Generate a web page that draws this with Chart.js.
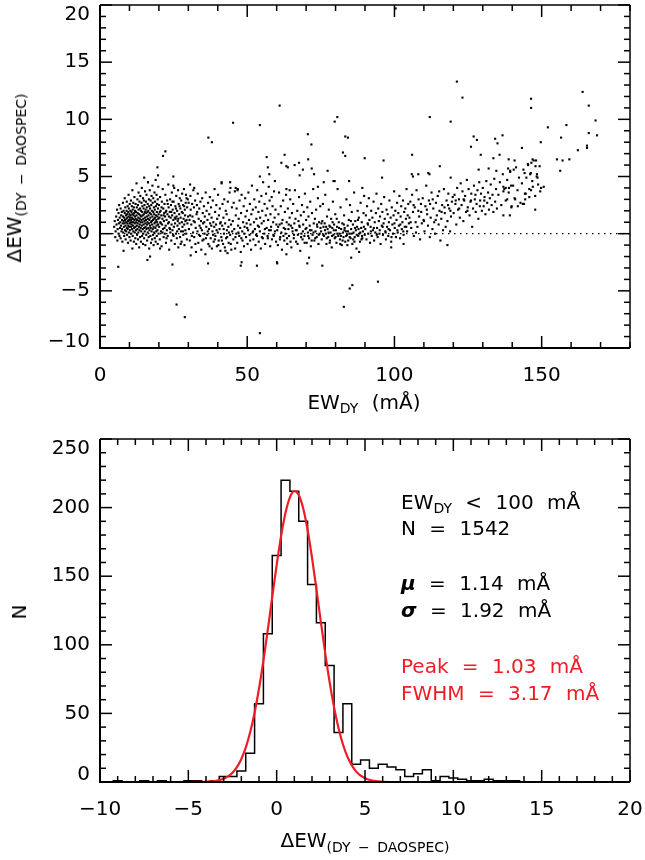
<!DOCTYPE html>
<html><head><meta charset="utf-8">
<script src="https://cdn.jsdelivr.net/npm/chart.js@4.4.1/dist/chart.umd.min.js"></script>
<style>
html,body{margin:0;padding:0;background:#fff;}
body{width:645px;height:860px;position:relative;overflow:hidden;font-family:"DejaVu Sans",sans-serif;color:#000;}
canvas{position:absolute;left:0;}
#c1{top:0;} #c2{top:420px;}
.t{position:absolute;font-size:20px;line-height:24px;white-space:nowrap;word-spacing:7px;}
.sub{font-size:14px;position:relative;top:4px;word-spacing:3px;}
.asub{font-size:14px;position:relative;top:5px;word-spacing:3px;}
.hc{transform:translate(-50%,0);}
.rot{transform:translate(-50%,-50%) rotate(-90deg);}
.red{color:#ee1c25;}
</style></head><body>
<canvas id="c1" width="645" height="420"></canvas>
<canvas id="c2" width="645" height="440"></canvas>

<div class="t rot" style="left:15px;top:178px">ΔEW<span class="asub">(DY − DAOSPEC)</span></div>
<div class="t hc" style="left:364px;top:390px">EW<span class="sub">DY</span> (mÅ)</div>

<div class="t rot" style="left:19px;top:612px">N</div>
<div class="t hc" style="left:365px;top:828px">ΔEW<span class="asub">(DY − DAOSPEC)</span></div>

<div class="t" style="left:401px;top:490px">EW<span class="sub">DY</span> &lt; 100 mÅ</div>
<div class="t" style="left:401px;top:516px">N = 1542</div>
<div class="t" style="left:401px;top:571px"><b><i>μ</i></b> = 1.14 mÅ</div>
<div class="t" style="left:401px;top:598px"><b><i>σ</i></b> = 1.92 mÅ</div>
<div class="t red" style="left:401px;top:654px">Peak = 1.03 mÅ</div>
<div class="t red" style="left:401px;top:681px">FWHM = 3.17 mÅ</div>

<script>
// ---------- top panel: scatter data [EW_DY (mÅ), ΔEW (mÅ)] ----------
const scatterEW5to12 = [[4.8,0.6],[5.0,1.1],[5.2,-0.3],[5.3,0.2],[5.5,1.5],[5.6,0.8],[5.8,2.1],[5.9,-0.6],[6.0,0.4],[6.1,1.2],[6.3,1.8],[6.3,0.0],[6.4,0.9],[6.5,2.5],[6.6,-0.2],[6.7,1.4],[6.8,0.5],[6.9,1.0],[7.0,2.2],[7.0,-0.4],[7.1,0.7],[7.2,1.6],[7.3,0.2],[7.4,1.9],[7.5,1.2],[7.5,0.4],[7.6,-0.7],[7.7,0.9],[7.8,2.7],[7.8,1.5],[7.9,0.1],[8.0,1.1],[8.0,2.0],[8.1,0.6],[8.2,-0.2],[8.2,1.4],[8.3,0.9],[8.4,1.8],[8.4,3.1],[8.5,0.3],[8.5,1.2],[8.6,2.3],[8.7,0.7],[8.7,-0.5],[8.8,1.6],[8.8,1.0],[8.9,0.2],[9.0,2.0],[9.0,1.3],[9.1,0.5],[9.1,2.8],[9.2,1.7],[9.2,-0.1],[9.3,0.9],[9.3,1.4],[9.4,2.4],[9.4,0.4],[9.5,1.1],[9.5,-0.8],[9.6,1.9],[9.6,0.7],[9.7,1.5],[9.7,3.4],[9.8,0.1],[9.8,2.2],[9.9,1.2],[9.9,0.6],[10.0,1.7],[10.0,-0.3],[10.1,0.9],[10.1,2.6],[10.2,1.4],[10.2,0.3],[10.3,2.0],[10.3,1.0],[10.4,-0.6],[10.4,1.6],[10.5,0.6],[10.5,2.9],[10.6,1.2],[10.6,0.0],[10.7,1.9],[10.7,0.8],[10.8,2.4],[10.8,1.4],[10.9,0.4],[10.9,1.0],[11.0,3.8],[11.0,1.7],[11.1,-0.2],[11.1,2.1],[11.2,0.7],[11.2,1.3],[11.3,2.7],[11.3,0.2],[11.4,1.6],[11.4,1.0],[11.5,-0.7],[11.5,2.3],[11.6,0.5],[11.6,1.8],[11.7,1.2],[11.7,3.2],[11.8,0.1],[11.8,0.9],[11.9,2.0],[11.9,1.5],[12.0,0.6],[12.0,-0.4]];
const scatterEW12to20 = [[12.1,1.3],[12.1,2.6],[12.2,0.3],[12.2,1.9],[12.3,-0.9],[12.3,1.0],[12.4,4.4],[12.4,1.6],[12.5,0.7],[12.5,2.3],[12.6,-0.1],[12.6,1.2],[12.7,3.0],[12.7,0.4],[12.8,1.8],[12.8,0.9],[12.9,2.5],[12.9,-0.5],[13.0,1.4],[13.0,0.1],[13.1,2.1],[13.1,3.6],[13.2,0.6],[13.2,1.1],[13.3,-1.2],[13.3,1.7],[13.4,2.8],[13.4,0.3],[13.5,1.3],[13.5,0.8],[13.6,2.2],[13.6,-0.3],[13.7,1.6],[13.7,3.3],[13.8,0.5],[13.8,1.0],[13.9,2.0],[13.9,-0.7],[14.0,1.5],[14.0,0.2],[14.1,2.7],[14.1,1.2],[14.2,4.0],[14.2,0.7],[14.3,1.9],[14.3,-0.2],[14.4,1.0],[14.4,2.4],[14.5,0.4],[14.5,1.6],[14.6,3.1],[14.6,-0.9],[14.7,1.3],[14.7,0.0],[14.8,2.2],[14.8,0.8],[14.9,1.7],[14.9,2.9],[15.0,0.5],[15.0,-0.4],[15.1,1.1],[15.1,2.5],[15.2,1.9],[15.2,0.2],[15.3,3.7],[15.3,1.4],[15.4,0.9],[15.4,-1.0],[15.5,2.1],[15.5,0.6],[15.6,1.2],[15.6,2.8],[15.7,-0.1],[15.7,1.8],[15.8,0.4],[15.8,3.4],[15.9,1.5],[15.9,2.3],[16.0,0.8],[16.0,-0.6],[16.1,1.9],[16.1,1.0],[16.2,2.6],[16.2,0.1],[16.3,4.5],[16.3,1.3],[16.4,0.5],[16.4,2.0],[16.5,-0.3],[16.5,1.6],[16.6,3.0],[16.6,0.9],[16.7,2.4],[16.7,-1.3],[16.8,1.2],[16.8,0.3],[16.9,1.8],[16.9,3.8],[17.0,0.7],[17.0,2.2],[17.1,-0.2],[17.1,1.4],[17.2,2.9],[17.2,0.5],[17.3,1.0],[17.3,-0.8],[17.4,2.5],[17.4,1.7],[17.5,0.2],[17.5,3.3],[17.6,1.1],[17.6,2.0],[17.7,-0.5],[17.7,0.8],[17.8,1.5],[17.8,4.2],[17.9,2.7],[17.9,0.4],[18.0,1.2],[18.0,-0.1],[18.1,1.9],[18.1,3.1],[18.2,0.6],[18.2,-1.0],[18.3,2.3],[18.3,1.3],[18.4,0.1],[18.4,1.7],[18.5,3.6],[18.5,0.9],[18.6,2.1],[18.6,-0.4],[18.7,1.4],[18.7,2.8],[18.8,0.5],[18.8,1.0],[18.9,4.7],[18.9,-0.7],[19.0,1.6],[19.0,2.4],[19.1,0.2],[19.1,1.2],[19.2,3.4],[19.2,0.7],[19.3,-0.2],[19.3,1.9],[19.4,2.6],[19.4,1.0],[19.5,0.3],[19.5,1.5],[19.6,3.0],[19.6,-0.9],[19.7,0.8],[19.7,2.2],[19.8,1.3],[19.8,4.1],[19.9,0.0],[19.9,1.7]];
const scatterEW20to30 = [[20.0,2.5],[20.1,0.6],[20.2,1.4],[20.3,-0.5],[20.4,3.2],[20.5,1.0],[20.6,2.0],[20.7,0.2],[20.8,1.6],[20.9,-1.1],[21.0,2.8],[21.1,0.8],[21.2,1.3],[21.3,3.9],[21.4,0.4],[21.5,2.2],[21.6,-0.3],[21.7,1.1],[21.8,1.8],[21.9,2.6],[22.0,0.0],[22.1,1.5],[22.2,3.4],[22.3,0.7],[22.4,-0.8],[22.5,2.0],[22.6,1.2],[22.7,0.3],[22.8,2.9],[22.9,1.7],[23.0,-0.2],[23.1,0.9],[23.2,4.3],[23.3,2.3],[23.4,1.0],[23.5,-1.4],[23.6,0.5],[23.7,1.9],[23.8,3.0],[23.9,0.1],[24.0,1.4],[24.1,2.5],[24.2,-0.6],[24.3,0.8],[24.4,3.6],[24.5,1.6],[24.6,0.3],[24.7,2.1],[24.8,-0.1],[24.9,1.2],[25.0,2.8],[25.1,0.6],[25.2,4.0],[25.3,1.8],[25.4,-0.9],[25.5,0.9],[25.6,2.4],[25.7,1.3],[25.8,0.0],[25.9,3.3],[26.0,1.5],[26.1,-0.4],[26.2,2.0],[26.3,0.7],[26.4,1.1],[26.5,3.8],[26.6,-1.2],[26.7,2.6],[26.8,0.4],[26.9,1.7],[27.0,0.9],[27.1,3.1],[27.2,-0.3],[27.3,2.2],[27.4,1.4],[27.5,0.2],[27.6,2.9],[27.7,-0.7],[27.8,1.0],[27.9,3.5],[28.0,0.6],[28.1,1.8],[28.2,2.5],[28.3,-0.1],[28.4,1.3],[28.5,3.9],[28.6,0.8],[28.7,-1.0],[28.8,2.1],[28.9,1.6],[29.0,0.3],[29.1,2.7],[29.2,3.4],[29.3,0.0],[29.4,1.2],[29.5,-0.5],[29.6,2.3],[29.7,0.9],[29.8,3.0],[29.9,1.5],[20.3,1.9],[20.6,0.9],[20.9,2.3],[21.2,0.1],[21.6,1.6],[21.9,0.5],[22.3,1.9],[22.6,-0.4],[23.0,2.6],[23.4,1.5],[23.8,0.4],[24.2,1.9],[24.6,2.8],[25.0,-0.2],[25.4,1.4],[25.8,2.2],[26.2,0.2],[26.6,1.3],[27.0,2.4],[27.4,-0.9],[27.8,1.9],[28.2,0.2],[28.6,2.4],[29.0,1.1],[29.4,3.1]];
const scatterEW30to45 = [[30.1,2.7],[30.2,0.4],[30.4,1.2],[30.5,-0.6],[30.7,3.3],[30.8,2.1],[31.0,0.8],[31.1,-1.2],[31.3,2.6],[31.4,1.5],[31.6,0.1],[31.7,3.8],[31.9,2.3],[32.0,-0.3],[32.2,1.0],[32.3,2.9],[32.5,0.5],[32.6,-1.6],[32.8,1.7],[32.9,2.5],[33.1,0.2],[33.2,3.5],[33.4,-0.8],[33.5,1.3],[33.7,2.2],[33.8,0.7],[34.0,-0.2],[34.1,2.8],[34.3,1.1],[34.4,-1.4],[34.6,0.3],[34.7,3.1],[34.9,1.8],[35.0,0.9],[35.2,-0.5],[35.3,2.4],[35.5,0.0],[35.6,1.5],[35.8,-1.8],[35.9,3.6],[36.1,0.6],[36.2,2.0],[36.4,-0.1],[36.5,1.2],[36.7,2.7],[36.8,-0.9],[37.0,0.4],[37.1,1.7],[37.3,3.2],[37.4,0.9],[37.6,-0.4],[37.7,2.3],[37.9,1.4],[38.0,-1.3],[38.2,0.2],[38.3,2.9],[38.5,1.0],[38.6,-0.7],[38.8,0.6],[38.9,3.9],[39.1,1.9],[39.2,-0.2],[39.4,0.8],[39.5,2.5],[39.7,-1.1],[39.8,1.3],[40.0,0.1],[40.1,3.4],[40.3,-0.6],[40.4,1.6],[40.6,0.4],[40.7,2.2],[40.9,-1.5],[41.0,1.0],[41.2,-0.3],[41.3,4.4],[41.5,0.7],[41.6,2.6],[41.8,-0.9],[41.9,1.4],[42.1,0.0],[42.2,3.0],[42.4,-1.2],[42.5,0.9],[42.7,2.0],[42.8,-0.4],[43.0,1.7],[43.1,0.3],[43.3,-1.7],[43.4,2.8],[43.6,0.6],[43.7,-0.8],[43.9,1.2],[44.0,3.6],[44.2,-0.1],[44.3,4.0],[44.5,0.8],[44.6,-1.4],[44.8,2.3],[44.9,0.2],[30.6,1.6],[31.2,-0.2],[31.8,1.1],[32.4,-0.9],[33.0,1.9],[33.6,-0.1],[34.2,0.5],[34.8,-0.6],[35.4,1.0],[36.0,-0.4],[36.6,0.2],[37.2,-1.1],[37.8,0.7],[38.4,-0.1],[39.0,-0.5],[39.6,0.3],[40.2,-1.0],[40.8,0.9],[41.4,-0.6],[42.0,0.4],[42.6,-1.5],[43.2,-0.3],[43.8,0.1],[44.4,-0.9]];
const scatterEW45to60 = [[45.1,1.1],[45.3,-0.5],[45.4,2.7],[45.6,0.4],[45.8,3.7],[45.9,-1.3],[46.1,1.6],[46.3,0.0],[46.4,2.2],[46.6,-0.8],[46.8,3.9],[46.9,0.7],[47.1,1.3],[47.3,-0.2],[47.4,2.9],[47.6,0.5],[47.8,-1.6],[47.9,1.8],[48.1,3.4],[48.3,0.2],[48.4,-0.6],[48.6,1.0],[48.8,2.4],[48.9,-1.1],[49.1,0.6],[49.3,3.1],[49.4,1.5],[49.6,-0.3],[49.8,0.9],[49.9,2.0],[50.1,-0.9],[50.3,0.3],[50.4,3.6],[50.6,1.2],[50.8,-0.1],[50.9,2.6],[51.1,0.8],[51.3,-1.4],[51.4,1.7],[51.6,4.2],[51.8,0.1],[51.9,2.1],[52.1,-0.5],[52.3,1.0],[52.4,3.0],[52.6,0.4],[52.8,-1.0],[52.9,2.3],[53.1,1.3],[53.3,-0.2],[53.4,3.8],[53.6,0.7],[53.8,1.9],[53.9,-0.7],[54.1,2.8],[54.3,0.2],[54.4,1.4],[54.6,-1.3],[54.8,3.3],[54.9,0.9],[55.1,2.0],[55.3,-0.4],[55.4,4.5],[55.6,1.1],[55.8,0.0],[55.9,2.6],[56.1,-0.9],[56.3,1.6],[56.4,3.5],[56.6,0.5],[56.8,2.2],[56.9,-0.2],[57.1,1.2],[57.3,4.1],[57.4,0.3],[57.6,2.9],[57.8,-1.1],[57.9,1.7],[58.1,0.6],[58.3,3.2],[58.4,-0.5],[58.6,2.4],[58.8,1.0],[58.9,-0.1],[59.1,3.7],[59.3,1.4],[59.4,0.2],[59.6,2.1],[59.8,-0.7],[59.9,0.8],[46.0,-0.3],[47.0,0.1],[48.0,-0.4],[49.0,0.0],[50.0,0.5],[51.0,-0.6],[52.0,0.2],[53.0,-0.1],[54.0,0.6],[55.0,-0.3],[56.0,0.4],[57.0,-0.4],[58.0,0.3],[59.0,-0.2]];
const scatterEW60to75 = [[60.2,0.3],[60.4,-1.0],[60.6,1.7],[60.8,3.6],[61.0,0.8],[61.2,-0.3],[61.4,2.4],[61.6,0.1],[61.8,-1.4],[62.0,1.2],[62.2,2.9],[62.4,0.5],[62.6,-0.6],[62.8,1.9],[63.0,0.0],[63.2,3.4],[63.4,1.0],[63.6,-0.9],[63.8,2.2],[64.0,0.4],[64.2,-0.2],[64.4,1.4],[64.6,3.0],[64.8,0.7],[65.0,-1.2],[65.2,1.8],[65.4,0.2],[65.6,2.6],[65.8,-0.4],[66.0,0.9],[66.2,3.8],[66.4,1.3],[66.6,-0.7],[66.8,0.3],[67.0,2.0],[67.2,-0.1],[67.4,1.1],[67.6,3.2],[67.8,0.6],[68.0,-1.5],[68.2,1.6],[68.4,0.0],[68.6,2.5],[68.8,-0.5],[69.0,0.8],[69.2,1.9],[69.4,-0.2],[69.6,3.5],[69.8,0.4],[70.0,1.2],[70.2,-0.8],[70.4,2.3],[70.6,0.1],[70.8,1.5],[71.0,-0.4],[71.2,0.7],[71.4,2.8],[71.6,-1.1],[71.8,0.3],[72.0,1.8],[72.2,-0.1],[72.4,3.9],[72.6,0.9],[72.8,-0.6],[73.0,1.3],[73.2,0.2],[73.4,2.1],[73.6,-0.3],[73.8,0.6],[74.0,3.1],[74.2,-0.9],[74.4,1.0],[74.6,0.0],[74.8,2.4],[60.5,0.6],[61.1,-0.5],[61.7,0.9],[62.3,-0.2],[62.9,0.4],[63.5,-0.4],[64.1,0.8],[64.7,-0.7],[65.3,0.5],[65.9,-0.1],[66.5,0.3],[67.1,-0.9],[67.7,0.7],[68.3,-0.3],[68.9,0.2],[69.5,-0.8],[70.1,0.5],[70.7,-0.2],[71.3,0.3],[71.9,-0.6],[72.5,0.1],[73.1,-0.4],[73.7,0.8],[74.3,-0.1],[74.9,0.5]];
const scatterEW75to90 = [[75.1,0.2],[75.3,-0.5],[75.5,1.1],[75.7,2.6],[75.9,0.6],[76.1,-0.2],[76.3,0.9],[76.5,3.4],[76.7,0.0],[76.9,-0.9],[77.1,1.5],[77.3,0.4],[77.5,-0.3],[77.7,2.1],[77.9,0.7],[78.1,-0.6],[78.3,0.1],[78.5,1.3],[78.7,-1.2],[78.9,0.5],[79.1,2.8],[79.3,-0.1],[79.5,0.8],[79.7,-0.4],[79.9,1.7],[80.1,0.3],[80.3,-0.8],[80.5,0.6],[80.7,3.9],[80.9,-0.2],[81.1,1.0],[81.3,0.0],[81.5,-0.5],[81.7,2.3],[81.9,0.4],[82.1,-1.0],[82.3,0.9],[82.5,0.1],[82.7,-0.3],[82.9,1.6],[83.1,0.5],[83.3,-0.7],[83.5,0.2],[83.7,3.0],[83.9,-0.1],[84.1,0.7],[84.3,-0.6],[84.5,1.2],[84.7,0.0],[84.9,2.5],[85.1,-0.4],[85.3,0.4],[85.5,1.9],[85.7,-0.9],[85.9,0.8],[86.1,0.1],[86.3,3.6],[86.5,-0.3],[86.7,1.1],[86.9,0.3],[87.1,-1.3],[87.3,0.6],[87.5,2.0],[87.7,-0.2],[87.9,1.4],[88.1,0.0],[88.3,-0.7],[88.5,2.7],[88.7,0.5],[88.9,1.0],[89.1,-0.4],[89.3,0.2],[89.5,1.8],[89.7,3.3],[89.9,-0.1],[75.2,0.9],[75.8,-0.1],[76.4,0.3],[77.0,-0.4],[77.6,0.1],[78.2,0.6],[78.8,-0.2],[79.4,0.3],[80.0,-0.3],[80.6,0.0],[81.2,0.5],[81.8,-0.2],[82.4,-0.6],[83.0,0.3],[83.6,-0.2],[84.2,0.2],[84.8,-0.3],[85.4,0.0],[86.0,-0.5],[86.6,0.5],[87.2,-0.1],[87.8,0.4],[88.4,0.1],[89.0,-0.2],[89.6,0.6],[76.8,0.6],[78.0,-0.8],[79.0,1.0],[80.4,1.3],[81.6,-0.9],[82.8,0.8],[84.0,-1.0],[85.2,1.1],[86.4,-0.7],[87.6,1.2],[88.8,-0.5]];
const scatterEW90to105 = [[90.1,0.4],[90.3,1.6],[90.5,-0.5],[90.7,2.4],[90.9,0.9],[91.1,0.0],[91.3,3.1],[91.5,1.2],[91.7,-0.8],[91.9,0.6],[92.1,2.0],[92.3,-0.2],[92.5,1.4],[92.7,0.3],[92.9,2.8],[93.1,-0.6],[93.3,1.0],[93.5,0.1],[93.7,1.8],[93.9,3.5],[94.1,0.5],[94.3,-0.3],[94.5,2.2],[94.7,1.1],[94.9,0.0],[95.1,1.5],[95.3,-0.9],[95.5,2.6],[95.7,0.7],[95.9,1.9],[96.1,-0.1],[96.3,0.9],[96.5,3.2],[96.7,1.3],[96.9,0.2],[97.1,-0.5],[97.3,2.1],[97.5,0.6],[97.7,1.7],[97.9,-0.2],[98.1,1.0],[98.3,2.9],[98.5,0.3],[98.7,1.4],[98.9,-0.7],[99.1,2.3],[99.3,0.8],[99.5,0.0],[99.7,1.6],[99.9,3.7],[100.1,0.5],[100.3,2.0],[100.5,-0.3],[100.7,1.2],[100.9,2.7],[101.1,0.1],[101.3,1.8],[101.5,0.7],[101.7,3.3],[101.9,-0.4],[102.1,1.5],[102.3,2.4],[102.5,0.4],[102.7,1.0],[102.9,2.9],[103.1,-0.1],[103.3,1.9],[103.5,0.6],[103.7,2.2],[103.9,1.3],[104.1,3.9],[104.3,0.2],[104.5,1.6],[104.7,2.6],[104.9,0.9],[91.0,0.8],[92.0,0.2],[93.0,0.5],[94.0,-0.1],[95.0,0.3],[96.0,0.6],[97.0,0.1],[98.0,0.4],[99.0,-0.3],[100.0,0.9],[101.0,0.3],[102.0,0.8],[103.0,0.2],[104.0,0.6]];
const scatterEW105to120 = [[105.1,1.4],[105.4,2.8],[105.7,0.5],[106.0,3.4],[106.3,1.9],[106.6,-0.2],[106.9,2.3],[107.2,1.0],[107.5,3.8],[107.8,0.6],[108.1,2.0],[108.4,1.5],[108.7,-0.5],[109.0,2.6],[109.3,0.9],[109.6,3.1],[109.9,1.2],[110.2,0.2],[110.5,2.4],[110.8,4.2],[111.1,1.7],[111.4,0.7],[111.7,2.9],[112.0,-0.3],[112.3,1.4],[112.6,3.6],[112.9,0.4],[113.2,2.2],[113.5,1.0],[113.8,0.0],[114.1,2.7],[114.4,1.6],[114.7,3.3],[115.0,0.8],[115.3,2.0],[115.6,-0.6],[115.9,1.3],[116.2,2.5],[116.5,0.3],[116.8,3.9],[117.1,1.8],[117.4,0.6],[117.7,2.9],[118.0,1.1],[118.3,3.5],[118.6,2.2],[118.9,0.2],[119.2,1.5],[119.5,2.8],[119.8,3.2],[105.5,1.0],[106.5,2.5],[107.3,0.1],[108.2,3.0],[109.1,1.9],[110.0,1.1],[111.0,2.1],[112.1,2.6],[113.0,3.0],[114.0,1.2],[115.2,3.7],[116.0,1.9],[117.0,2.3],[118.2,2.5],[119.0,2.0]];
const scatterEW120to150 = [[120.1,1.8],[120.4,3.4],[120.7,2.6],[121.0,0.8],[121.3,4.0],[121.6,2.1],[121.9,3.0],[122.2,1.4],[122.5,4.4],[122.8,2.5],[123.1,3.7],[123.4,1.1],[123.7,2.9],[124.0,3.3],[124.3,1.9],[124.6,4.7],[124.9,2.3],[125.2,3.9],[125.5,1.6],[125.8,2.8],[126.1,3.5],[126.4,0.6],[126.7,2.2],[127.0,4.2],[127.3,3.0],[127.6,1.9],[127.9,2.6],[128.2,3.8],[128.5,1.3],[128.8,4.5],[129.1,2.9],[129.4,3.5],[129.7,2.0],[130.0,4.0],[130.3,2.4],[130.6,3.2],[130.9,1.7],[131.2,4.6],[131.5,2.7],[131.8,3.6],[132.1,2.1],[132.4,3.1],[132.7,4.3],[133.0,2.5],[133.3,3.4],[133.6,1.9],[133.9,4.8],[134.2,2.8],[134.5,3.9],[134.8,2.2],[120.8,2.9],[122.0,2.2],[123.5,3.0],[124.8,2.0],[126.0,2.9],[127.5,3.4],[129.0,2.4],[130.5,2.9],[135.3,3.4],[135.8,4.5],[136.3,2.5],[136.8,5.2],[137.3,3.9],[137.8,2.9],[138.3,4.7],[138.8,3.6],[139.3,5.5],[139.8,2.4],[140.3,4.2],[140.8,3.1],[141.3,5.8],[141.8,3.8],[142.3,4.9],[142.8,2.7],[143.3,4.4],[143.8,5.6],[144.3,3.5],[144.8,4.9],[145.3,6.1],[145.8,3.9],[146.3,5.3],[146.8,4.6],[147.3,6.4],[147.8,3.3],[148.3,5.0],[148.8,4.3],[149.3,5.9],[149.8,4.0],[137.0,1.6],[141.0,3.0],[144.0,2.6]];
const scatterIsolatedHigh = [[45.2,9.7],[54.3,9.5],[36.8,8.4],[38.0,8.0],[22.2,7.2],[21.4,6.8],[19.5,5.8],[19.7,5.1],[15.0,4.9],[16.3,4.5],[24.9,5.0],[24.9,4.2],[56.6,6.7],[57.0,5.8],[57.5,5.2],[54.3,5.0],[59.4,4.6],[41.3,4.5],[44.2,4.5],[30.6,4.3],[32.0,4.0],[46.1,4.0],[46.7,3.8],[61.0,11.2],[79.7,9.8],[80.6,10.2],[70.6,8.7],[83.3,8.5],[84.2,8.4],[112.0,10.2],[119.1,9.8],[71.8,7.8],[82.5,7.1],[83.3,6.8],[62.7,6.9],[61.6,6.2],[63.3,5.9],[63.8,5.8],[66.1,6.0],[67.6,6.2],[70.7,6.5],[68.9,5.6],[67.8,5.1],[71.9,5.7],[72.7,5.2],[77.3,5.5],[89.9,6.6],[96.3,6.4],[106.0,6.9],[115.4,5.9],[105.9,5.2],[106.3,5.0],[108.1,5.2],[111.5,5.3],[111.9,5.2],[119.1,4.9],[95.8,4.9],[84.6,4.6],[89.1,4.0],[79.3,4.6],[79.7,4.6],[76.0,4.5],[74.0,4.1],[63.3,3.9],[64.4,3.8],[100.4,19.7],[121.2,13.3],[123.1,11.9],[146.4,11.8],[146.4,11.0],[163.9,12.4],[166.0,11.2],[168.3,9.9],[168.8,8.6],[166.0,8.8],[165.4,7.7],[165.4,7.5],[158.4,9.5],[156.6,8.4],[162.3,7.3],[152.1,9.3],[149.7,8.0],[155.2,6.5],[157.1,6.4],[159.4,6.5],[156.3,5.5],[126.9,8.5],[128.0,8.2],[126.0,7.6],[134.2,8.3],[135.0,7.9],[136.7,8.6],[129.3,6.9],[143.3,7.5],[133.6,6.6],[135.7,6.9],[138.8,6.5],[140.8,6.4],[139.3,5.4],[146.9,6.5],[148.1,6.4],[146.5,6.2],[145.4,6.0],[147.9,5.9],[144.2,5.3],[146.1,5.2],[148.4,5.2],[148.6,4.9],[128.6,5.6],[132.0,5.7],[134.6,5.5],[140.5,5.6],[138.6,5.7],[149.5,3.7],[150.7,4.1],[147.0,4.1],[146.4,3.8],[144.6,3.5],[145.8,3.2],[144.4,3.0],[143.6,2.6],[141.9,2.4],[139.7,2.3],[147.8,2.1],[139.2,1.6],[138.3,3.0],[137.0,4.1],[137.8,4.0],[138.9,4.0],[139.6,4.2],[137.0,3.7]];
const scatterIsolatedLow = [[6.2,-2.9],[8.0,-1.5],[11.0,-1.3],[16.1,-2.3],[17.0,-2.0],[26.0,-6.2],[28.8,-7.3],[54.3,-8.7],[24.6,-2.7],[30.8,-1.9],[36.7,-2.6],[47.8,-2.8],[48.1,-2.5],[53.3,-2.8],[60.1,-2.5],[20.4,-1.3],[82.8,-6.4],[84.8,-4.8],[85.7,-4.5],[94.4,-4.2],[75.5,-2.8],[70.4,-2.6],[71.0,-2.1],[60.2,-2.6],[63.3,-1.8],[85.3,-2.1],[88.0,-1.6],[98.9,-1.2],[103.1,-0.9],[118.0,-1.0]];
const zeroLineX = [0, 180];
const zeroLineY = [0, 0];
const topXTicks = [0, 50, 100, 150];
const topYTicks = [-10, -5, 0, 5, 10, 15, 20];

// ---------- bottom panel: histogram of ΔEW (bin width 0.5 mÅ) ----------
const histBinCenters = [-10,-9.5,-9,-8.5,-8,-7.5,-7,-6.5,-6,-5.5,-5,-4.5,-4,-3.5,-3,-2.5,-2,-1.5,-1,-0.5,0,0.5,1,1.5,2,2.5,3,3.5,4,4.5,5,5.5,6,6.5,7,7.5,8,8.5,9,9.5,10,10.5,11,11.5,12,12.5,13,13.5,14];
const histCounts     = [0,0,1,0,0,1,0,1,0,0,1,1,0,1,4,4,8,21,57,108,165,220,212,190,144,116,85,36,57,13,16,10,13,11,9,4,6,9,1,4,3,2,1,1,2,1,1,1,0];
// Gaussian fit curve
const fitX = [-10,-8,-6,-5,-4.5,-4,-3.5,-3,-2.75,-2.5,-2.25,-2,-1.75,-1.5,-1.25,-1,-0.75,-0.5,-0.25,0,0.25,0.5,0.75,1,1.25,1.5,1.75,2,2.25,2.5,2.75,3,3.25,3.5,3.75,4,4.5,5,5.5,6,7,8,10,12,15];
const fitN = [0,0,0,0,0.1,0.2,0.7,2.4,4.1,6.8,10.9,16.8,25.1,36.2,50.5,68.0,88.4,111.1,134.9,158.2,179.2,196.2,207.5,212.0,209.2,199.5,183.7,163.5,140.6,116.7,93.7,72.6,54.4,39.4,27.5,18.6,7.6,2.7,0.9,0.2,0,0,0,0,0];
const botXTicks = [-10, -5, 0, 5, 10, 15, 20];
const botYTicks = [0, 50, 100, 150, 200, 250];

// ---------- helpers / plugins ----------
const FONT = {family: '"DejaVu Sans", sans-serif', size: 20};
const RED = '#ee1c25';
const fmt = v => String(v).replace('-', '\u2212');
const toXY = (xs, ys) => xs.map((v, i) => ({x: v, y: ys[i]}));
const pairs = arr => arr.map(p => ({x: p[0], y: p[1]}));

const edgeLabels = {
  id: 'edgeLabels',
  beforeDraw(chart, args, o) {
    const s = chart.scales.y;
    const items = s.getLabelItems ? s.getLabelItems() : [];
    items.forEach(it => {
      if (it._moved) return;
      const op = it.options || it;
      const t = op.translation;
      if (!t) return;
      if (Math.abs(t[1] - s.top) < 1) t[1] += o.top;
      else if (Math.abs(t[1] - s.bottom) < 1) t[1] -= o.bottom;
      it._moved = true;
    });
  }
};

const frameTicks = {
  id: 'frameTicks',
  afterDraw(chart, args, o) {
    const {ctx, chartArea: a, scales: {x, y}} = chart;
    ctx.save();
    ctx.strokeStyle = '#000';
    ctx.lineCap = 'butt';
    const seg = (x1, y1, x2, y2, w) => { ctx.lineWidth = w; ctx.beginPath(); ctx.moveTo(x1, y1); ctx.lineTo(x2, y2); ctx.stroke(); };
    const isMajor = (v, m) => Math.abs(v / m - Math.round(v / m)) < 1e-6;
    let n = Math.round((x.max - x.min) / o.xMinor);
    for (let i = 0; i <= n; i++) {
      const v = x.min + i * o.xMinor;
      const p = x.getPixelForValue(v);
      const L = isMajor(v, o.xMajor) ? 12 : 6;
      seg(p, a.bottom, p, a.bottom - L, 1.5);
      seg(p, a.top, p, a.top + L, 1.5);
    }
    n = Math.round((y.max - y.min) / o.yMinor);
    for (let i = 0; i <= n; i++) {
      const v = y.min + i * o.yMinor;
      const p = y.getPixelForValue(v);
      const L = isMajor(v, o.yMajor) ? 12 : 6;
      seg(a.left, p, a.left + L, p, 1.5);
      seg(a.right, p, a.right - L, p, 1.5);
    }
    seg(a.left, a.top, a.left, a.bottom + 1, 2);
    seg(a.left - 1, a.bottom, a.right, a.bottom, 2);
    seg(a.left, a.top, a.right, a.top, 1.5);
    seg(a.right, a.top, a.right, a.bottom, 1.5);
    ctx.restore();
  }
};

function axes(xMin, xMax, xTicks, yMin, yMax, yTicks, xH) {
  return {
    x: {type: 'linear', min: xMin, max: xMax,
        grid: {display: false, drawTicks: false}, border: {display: false},
        afterBuildTicks: s => { s.ticks = xTicks.map(v => ({value: v})); },
        ticks: {font: FONT, color: '#000', padding: 16, maxRotation: 0, autoSkip: false, callback: fmt},
        afterFit: s => { s.height = xH; s.paddingLeft = 0; s.paddingRight = 0; }},
    y: {type: 'linear', min: yMin, max: yMax,
        grid: {display: false, drawTicks: false}, border: {display: false},
        afterBuildTicks: s => { s.ticks = yTicks.map(v => ({value: v})); },
        ticks: {font: FONT, color: '#000', padding: 10, autoSkip: false, callback: fmt},
        afterFit: s => { s.width = 100; s.paddingTop = 0; s.paddingBottom = 0; }}
  };
}

const allScatter = [].concat(scatterEW5to12, scatterEW12to20, scatterEW20to30, scatterEW30to45,
  scatterEW45to60, scatterEW60to75, scatterEW75to90, scatterEW90to105, scatterEW105to120,
  scatterEW120to150, scatterIsolatedHigh, scatterIsolatedLow);

new Chart(document.getElementById('c1'), {
  type: 'scatter',
  data: {datasets: [
    {data: pairs(allScatter), pointStyle: 'rect', pointRadius: 1.5, backgroundColor: '#000',
     borderColor: '#000', borderWidth: 0, showLine: false},
    {type: 'line', data: toXY(zeroLineX, zeroLineY), borderColor: '#000', borderWidth: 1.2,
     borderDash: [1.5, 4.5], pointRadius: 0, showLine: true, fill: false}
  ]},
  options: {
    responsive: false, animation: false, events: [], devicePixelRatio: 1,
    layout: {padding: {left: 0, right: 15, top: 5, bottom: 0}},
    plugins: {legend: {display: false}, tooltip: {enabled: false},
              edgeLabels: {top: 10, bottom: 6},
              frameTicks: {xMajor: 50, xMinor: 10, yMajor: 5, yMinor: 1}},
    scales: axes(0, 180, topXTicks, -10, 20, topYTicks, 72)
  },
  plugins: [edgeLabels, frameTicks]
});

new Chart(document.getElementById('c2'), {
  type: 'line',
  data: {datasets: [
    {data: toXY(fitX, fitN), borderColor: RED, borderWidth: 2.2, pointRadius: 0,
     cubicInterpolationMode: 'monotone', fill: false},
    {data: toXY(histBinCenters, histCounts), borderColor: '#000', borderWidth: 1.5,
     pointRadius: 0, stepped: 'middle', fill: false}
  ]},
  options: {
    responsive: false, animation: false, events: [], devicePixelRatio: 1,
    layout: {padding: {left: 0, right: 15, top: 19, bottom: 0}},
    plugins: {legend: {display: false}, tooltip: {enabled: false},
              edgeLabels: {top: 10, bottom: 7},
              frameTicks: {xMajor: 5, xMinor: 1, yMajor: 50, yMinor: 10}},
    scales: axes(-10, 20, botXTicks, 0, 250, botYTicks, 78)
  },
  plugins: [edgeLabels, frameTicks]
});
</script>
</body></html>
